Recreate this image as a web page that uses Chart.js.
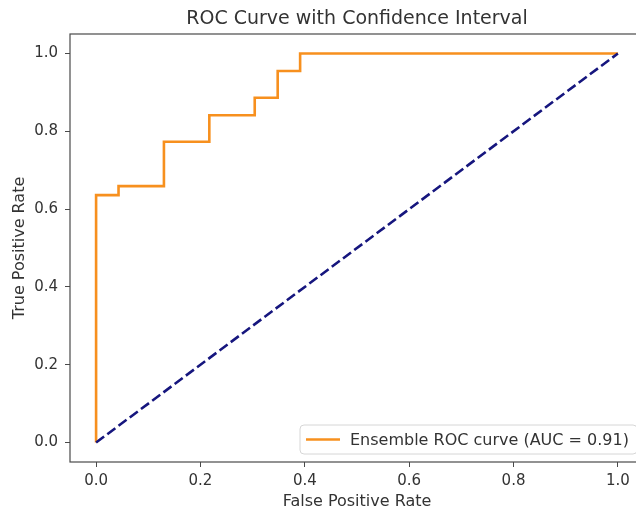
<!DOCTYPE html>
<html>
<head>
<meta charset="utf-8">
<script src="https://cdn.jsdelivr.net/npm/chart.js@4"></script>
<style>
  html, body { margin: 0; padding: 0; background: #fff; overflow: hidden; }
  #roc { display: block; }
</style>
</head>
<body>
<canvas id="roc" width="646" height="511"></canvas>
<script>
// ROC points (corner points of the step curve)
const fpr = [0, 0, 0.043, 0.043, 0.130, 0.130, 0.217, 0.217, 0.304, 0.304, 0.348, 0.348, 0.391, 0.391, 1.0];
const tpr = [0, 0.636, 0.636, 0.659, 0.659, 0.773, 0.773, 0.841, 0.841, 0.886, 0.886, 0.955, 0.955, 1.0, 1.0];
const chanceX = [0, 1];
const chanceY = [0, 1];
const tickValues = [0, 0.2, 0.4, 0.6, 0.8, 1.0];
const rocLabel = 'Ensemble ROC curve (AUC = 0.91)';
const titleText = 'ROC Curve with Confidence Interval';

const FONT = 'DejaVu Sans';
const INK = '#333';
const FRAME = '#4a4a4a';

const toPoints = (xs, ys) => xs.map((x, i) => ({ x, y: ys[i] }));

// frame, title and the in-axes legend
const decor = {
  id: 'decor',
  afterDraw(chart) {
    const { ctx, chartArea: a } = chart;
    ctx.save();
    ctx.strokeStyle = FRAME;
    ctx.lineWidth = 1.2;
    ctx.strokeRect(a.left, a.top, a.right - a.left, a.bottom - a.top);

    ctx.fillStyle = INK;
    ctx.font = `19px "${FONT}"`;
    ctx.textAlign = 'center';
    ctx.textBaseline = 'middle';
    ctx.fillText(titleText, (a.left + a.right) / 2, 19);

    // legend box, lower right
    const bx = 300, by = 425, bw = 337, bh = 29;
    ctx.beginPath();
    ctx.roundRect(bx, by, bw, bh, 4);
    ctx.fillStyle = 'rgba(255,255,255,0.85)';
    ctx.fill();
    ctx.strokeStyle = '#d6d6d6';
    ctx.lineWidth = 1;
    ctx.stroke();

    ctx.beginPath();
    ctx.moveTo(bx + 6, by + bh / 2);
    ctx.lineTo(bx + 40, by + bh / 2);
    ctx.strokeStyle = '#f7901e';
    ctx.lineWidth = 2.6;
    ctx.stroke();

    ctx.fillStyle = INK;
    ctx.font = `16px "${FONT}"`;
    ctx.textAlign = 'left';
    ctx.fillText(rocLabel, bx + 50, by + bh / 2 + 1);
    ctx.restore();
  }
};

new Chart(document.getElementById('roc'), {
  type: 'scatter',
  data: {
    datasets: [
      {
        label: 'chance',
        data: toPoints(chanceX, chanceY),
        showLine: true,
        borderColor: '#16167e',
        borderWidth: 2.6,
        borderDash: [10, 4],
        pointRadius: 0,
        order: 0,
      },
      {
        label: rocLabel,
        data: toPoints(fpr, tpr),
        showLine: true,
        borderColor: '#f7901e',
        borderWidth: 2.6,
        pointRadius: 0,
        order: 1,
      },
    ],
  },
  plugins: [decor],
  options: {
    responsive: false,
    animation: false,
    layout: { padding: { top: 34, right: 2, left: 0, bottom: 0 } },
    plugins: {
      legend: { display: false },
      tooltip: { enabled: false },
    },
    scales: {
      x: {
        type: 'linear',
        min: -0.05, max: 1.05,
        afterBuildTicks: s => { s.ticks = tickValues.map(v => ({ value: v })); },
        afterFit: s => { s.height = 49; },
        grid: { drawOnChartArea: false, drawTicks: true, tickLength: 5, color: FRAME },
        border: { display: false },
        ticks: { color: INK, font: { family: FONT, size: 15 }, padding: 5, maxRotation: 0,
                 callback: v => v.toFixed(1) },
        title: { display: true, text: 'False Positive Rate', color: INK,
                 font: { family: FONT, size: 16 }, padding: { top: 0, bottom: 0 } },
      },
      y: {
        type: 'linear',
        min: -0.05, max: 1.05,
        afterBuildTicks: s => { s.ticks = tickValues.map(v => ({ value: v })); },
        afterFit: s => { s.width = 70; },
        grid: { drawOnChartArea: false, drawTicks: true, tickLength: 5, color: FRAME },
        border: { display: false },
        ticks: { color: INK, font: { family: FONT, size: 15 }, padding: 7,
                 callback: v => v.toFixed(1) },
        title: { display: true, text: 'True Positive Rate', color: INK,
                 font: { family: FONT, size: 16 }, padding: { top: 10, bottom: 0 } },
      },
    },
  },
});
</script>
</body>
</html>
